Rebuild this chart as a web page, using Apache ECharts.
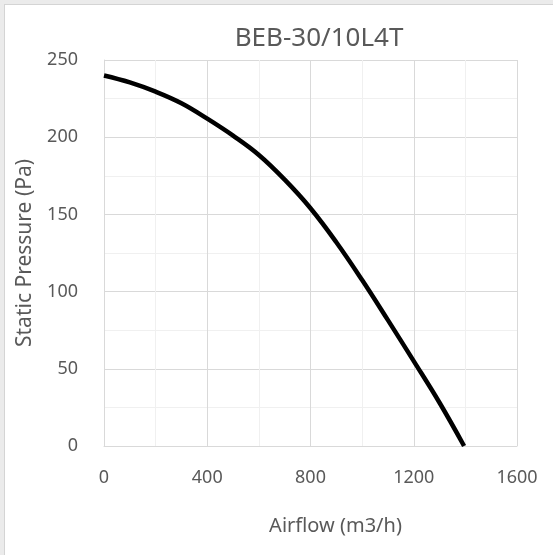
<!DOCTYPE html>
<html>
<head>
<meta charset="utf-8">
<script src="https://cdn.jsdelivr.net/npm/echarts@6/dist/echarts.min.js"></script>
<style>
  html, body { margin: 0; padding: 0; background: #ebebeb; width: 553px; height: 555px; overflow: hidden; }
  #frame { position: absolute; left: 4px; top: 4px; width: 560px; height: 560px; background: #fff; border-left: 1px solid #d4d4d4; border-top: 1px solid #d4d4d4; }
  #chart { position: absolute; left: 0; top: 0; width: 553px; height: 555px; }
</style>
</head>
<body>
<div id="frame"></div>
<div id="chart"></div>
<script>
const chartTitle = 'BEB-30/10L4T';
const xAxisTitle = 'Airflow (m3/h)';
const yAxisTitle = 'Static Pressure (Pa)';
const airflow  = [0,   100,   200,   300, 400, 500, 600,   700,   800, 900, 1000,  1100, 1200, 1300, 1395];
const pressure = [240, 235.5, 229.5, 222, 212, 201, 188.5, 172.5, 154, 132, 107.5, 81.5, 55,   28,   0];
const xTicks = [0, 400, 800, 1200, 1600];
const yTicks = [0, 50, 100, 150, 200, 250];

const FONT = 'Noto Sans';
const TXT = '#595959';
const chart = echarts.init(document.getElementById('chart'), null, { renderer: 'canvas' });
chart.setOption({
  backgroundColor: 'transparent',
  animation: false,
  title: {
    text: chartTitle, left: 314, top: 21, textAlign: 'center',
    textStyle: { fontFamily: FONT, fontSize: 26, fontWeight: 'normal', color: TXT }
  },
  grid: { left: 104, right: 36, top: 60, bottom: 109 },
  xAxis: {
    type: 'value', min: xTicks[0], max: xTicks[xTicks.length - 1], interval: 400,
    name: xAxisTitle, nameLocation: 'middle', nameGap: 70,
    nameTextStyle: { fontFamily: FONT, fontSize: 20, color: TXT, padding: [0, 0, 0, 50] },
    axisLine: { show: true, lineStyle: { color: '#d9d9d9', width: 1 } },
    axisTick: { show: false },
    axisLabel: { margin: 23, fontFamily: FONT, fontSize: 18, color: TXT, formatter: v => String(v) },
    splitLine: { show: true, lineStyle: { color: '#d9d9d9', width: 1 } },
    minorTick: { show: false, splitNumber: 2 },
    minorSplitLine: { show: true, lineStyle: { color: '#f0f0f0', width: 1 } }
  },
  yAxis: {
    type: 'value', min: yTicks[0], max: yTicks[yTicks.length - 1], interval: 50,
    name: yAxisTitle, nameLocation: 'middle', nameGap: 68, nameRotate: 90,
    nameTextStyle: { fontFamily: FONT, fontSize: 21, color: TXT },
    axisLine: { show: true, lineStyle: { color: '#d9d9d9', width: 1 } },
    axisTick: { show: false },
    axisLabel: { margin: 26, fontFamily: FONT, fontSize: 18, color: TXT, formatter: v => String(v) },
    splitLine: { show: true, lineStyle: { color: '#d9d9d9', width: 1 } },
    minorTick: { show: false, splitNumber: 2 },
    minorSplitLine: { show: true, lineStyle: { color: '#f0f0f0', width: 1 } }
  },
  series: [{
    type: 'line',
    data: airflow.map((x, i) => [x, pressure[i]]),
    smooth: 0.4,
    showSymbol: false,
    lineStyle: { color: '#000000', width: 4.5 }
  }]
});
</script>
</body>
</html>
